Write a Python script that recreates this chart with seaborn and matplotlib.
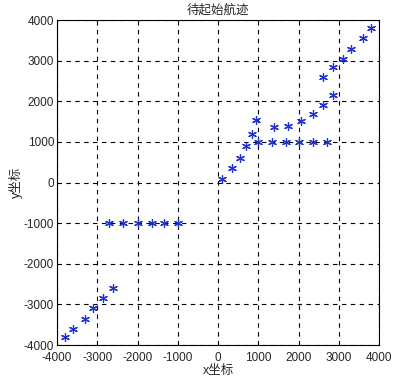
import matplotlib
matplotlib.use("Agg")
import matplotlib.pyplot as plt
import seaborn as sns
import pandas as pd

# track points
x_vals = [-3800, -3600, -3300, -3100, -2850, -2600,
          -2700, -2350, -2000, -1650, -1350, -1000,
          100, 350, 550, 700, 850, 950,
          1000, 1350, 1680, 2000, 2350, 2700,
          1400, 1750, 2050, 2350, 2600, 2850,
          2600, 2850, 3100, 3300, 3600, 3800]
y_vals = [-3800, -3600, -3350, -3100, -2850, -2600,
          -1000, -1000, -1000, -1000, -1000, -1000,
          80, 350, 600, 900, 1200, 1550,
          1000, 1000, 1000, 1000, 1000, 1000,
          1380, 1400, 1520, 1680, 1900, 2150,
          2600, 2850, 3050, 3300, 3550, 3800]
ticks = [-4000, -3000, -2000, -1000, 0, 1000, 2000, 3000, 4000]

df = pd.DataFrame({"x": x_vals, "y": y_vals})

sns.set_style("white")
plt.rcParams["font.family"] = ["Liberation Sans", "Noto Sans CJK SC"]
plt.rcParams["axes.unicode_minus"] = False

fig = plt.figure(figsize=(3.94, 3.80), dpi=100)
ax = fig.add_axes([0.1447, 0.092, 0.8173, 0.855])
sns.scatterplot(data=df, x="x", y="y", marker=(6, 2, 0), s=32,
                color="#2233cc", linewidth=0.9, edgecolor="#2233cc", ax=ax)

ax.set_xlim(-4000, 4000)
ax.set_ylim(-4000, 4000)
ax.set_xticks(ticks)
ax.set_yticks(ticks)
ax.tick_params(direction="in", labelsize=8.5, length=3)
ax.tick_params(axis="x", pad=5)
ax.tick_params(axis="y", pad=2)
ax.grid(True, color="black", linestyle=(0, (4, 4)), linewidth=0.8)
for s in ax.spines.values():
    s.set_color("black")
    s.set_linewidth(0.8)

ax.set_title("待起始航迹", fontsize=9, pad=5)
ax.set_xlabel("x坐标", fontsize=9, labelpad=1)
ax.set_ylabel("y坐标", fontsize=9, labelpad=1)

fig.savefig("out.png", dpi=100)
